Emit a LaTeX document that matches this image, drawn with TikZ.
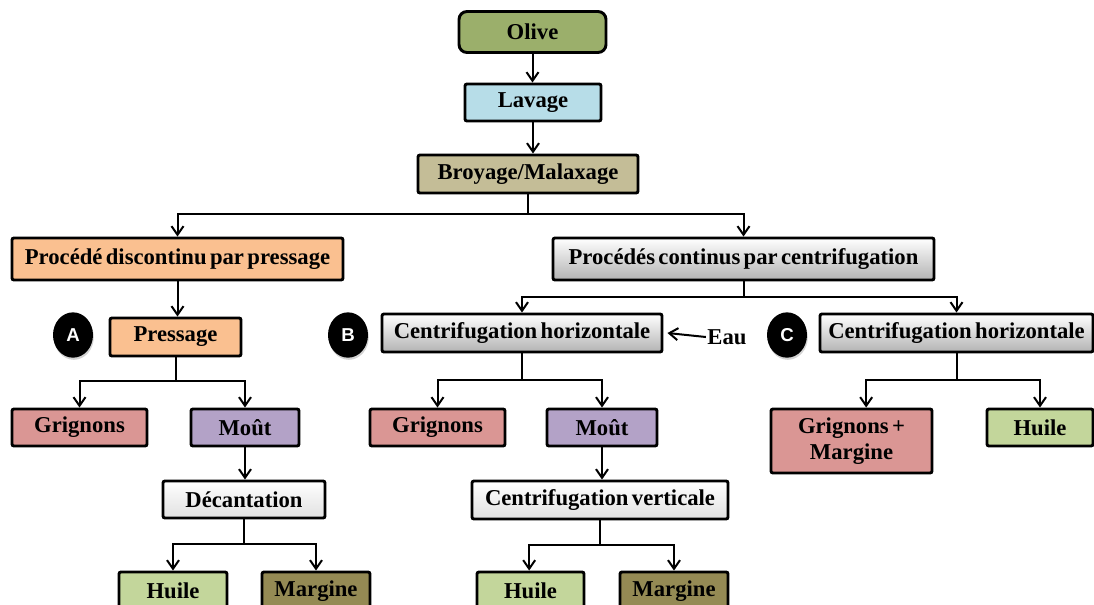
\documentclass[tikz,border=0pt]{standalone}
\usepackage{fontspec}
\setmainfont{Liberation Serif}[WordSpace=0.6]
\newfontfamily\tagfont{Liberation Sans}
\usepackage{tikz}
\usetikzlibrary{arrows.meta}
\usetikzlibrary{shapes.geometric}
\usetikzlibrary{shadows}
\definecolor{olivefill}{HTML}{9BAF6B}
\definecolor{washfill}{HTML}{B7DDE8}
\definecolor{grindfill}{HTML}{C4BD97}
\definecolor{pressfill}{HTML}{FAC090}
\definecolor{pomacefill}{HTML}{DA9694}
\definecolor{mustfill}{HTML}{B3A2C7}
\definecolor{oilfill}{HTML}{C3D69B}
\definecolor{wastefill}{HTML}{948A54}

\begin{document}
\begin{tikzpicture}[x=0.75pt,y=-0.75pt,
	box/.style={draw,line width=2.2pt,rounded corners=1.5pt,inner sep=0pt,font=\bfseries\fontsize{17}{19}\selectfont},
	greybox/.style={box,top color=white,bottom color=black!30},
	palebox/.style={box,top color=white,bottom color=black!12},
	tag/.style={ellipse,fill=black,text=white,inner sep=0pt,minimum width=30pt,minimum height=34pt,font=\tagfont\bfseries\fontsize{14}{16}\selectfont,drop shadow={shadow xshift=0.6pt,shadow yshift=-1.6pt,opacity=0.35}},
	arr/.style={-{Straight Barb[length=6.5pt,width=9pt]},line width=1.5pt},
	ln/.style={line width=1.5pt}]
			\useasboundingbox (0,0) rectangle (1094,604);
			\clip (0,0) rectangle (1094,604);
			% main line
			\node [box,fill=olivefill,rounded corners=6pt,minimum width=110.25pt,minimum height=30.75pt] (olive) at (532.5,32) {Olive};
			\node [box,fill=washfill,minimum width=102pt,minimum height=27.75pt] (wash) at (533,102.5) {Lavage};
			\node [box,fill=grindfill,minimum width=165pt,minimum height=28.5pt] (grind) at (528,174) {Broyage/Malaxage};
			\node [box,fill=pressfill,minimum width=248.25pt,minimum height=31.5pt] (disc) at (177.5,259) {Procédé discontinu par pressage};
			\node [greybox,minimum width=285.75pt,minimum height=31.5pt] (cont) at (743.5,259) {Procédés continus par centrifugation};
			% A
			\node [tag] (tagA) at (73,335) {A};
			\node [box,fill=pressfill,minimum width=98.25pt,minimum height=28.5pt] (press) at (175.5,337) {Pressage};
			\node [box,fill=pomacefill,minimum width=101.25pt,minimum height=27.75pt] (pomA) at (79.5,427.5) {Grignons};
			\node [box,fill=mustfill,minimum width=81pt,minimum height=27.75pt] (mustA) at (245,427.5) {Moût};
			\node [palebox,minimum width=121.5pt,minimum height=27.75pt] (decant) at (244,499.5) {Décantation};
			\node [box,fill=oilfill,minimum width=81pt,minimum height=28.5pt] (oilA) at (173,591) {Huile};
			\node [box,fill=wastefill,minimum width=81pt,minimum height=28.5pt] (wasteA) at (316,591) {Margine};
			% B
			\node [tag] (tagB) at (348,335) {B};
			\node [greybox,minimum width=210pt,minimum height=28.5pt] (horB) at (522,333) {Centrifugation horizontale};
			\node [font=\bfseries\fontsize{17}{19}\selectfont,inner sep=1pt] (water) at (727,337) {Eau};
			\node [box,fill=pomacefill,minimum width=101.25pt,minimum height=27.75pt] (pomB) at (437.5,427.5) {Grignons};
			\node [box,fill=mustfill,minimum width=82.5pt,minimum height=27.75pt] (mustB) at (602,427.5) {Moût};
			\node [palebox,minimum width=192pt,minimum height=28.5pt] (vert) at (600,500) {Centrifugation verticale};
			\node [box,fill=oilfill,minimum width=80.25pt,minimum height=28.5pt] (oilB) at (530.5,591) {Huile};
			\node [box,fill=wastefill,minimum width=81pt,minimum height=28.5pt] (wasteB) at (674,591) {Margine};
			% C
			\node [tag] (tagC) at (787,335) {C};
			\node [greybox,minimum width=204.75pt,minimum height=28.5pt] (horC) at (956.5,333) {Centrifugation horizontale};
			\node [box,fill=pomacefill,minimum width=120.75pt,minimum height=48pt,align=center] (pomC) at (851.5,441) {Grignons +\\Margine};
			\node [box,fill=oilfill,minimum width=79.5pt,minimum height=27.75pt] (oilC) at (1040,427.5) {Huile};
			% junctions
			\coordinate (j0) at (528,214);
			\coordinate (j1) at (743.5,297);
			\coordinate (jA) at (175.5,381);
			\coordinate (jA2) at (244,544);
			\coordinate (jB) at (522,380);
			\coordinate (jB2) at (600,545);
			\coordinate (jC) at (956.5,380);
			% arrows
			\draw [arr] (olive) -- (olive |- wash.north);
			\draw [arr] (wash) -- (wash |- grind.north);
			\draw [ln] (grind) -- (j0);
			\draw [arr] (j0) -| (disc);
			\draw [arr] (j0) -| (cont);
			\draw [arr] (disc) -- (disc |- press.north);
			\draw [ln] (cont) -- (j1);
			\draw [arr] (j1) -| (horB);
			\draw [arr] (j1) -| (horC);
			\draw [ln] (press) -- (jA);
			\draw [arr] (jA) -| (pomA);
			\draw [arr] (jA) -| (mustA);
			\draw [arr] (mustA) -- (mustA |- decant.north);
			\draw [ln] (decant) -- (jA2);
			\draw [arr] (jA2) -| (oilA);
			\draw [arr] (jA2) -| (wasteA);
			\draw [arr] (water.west) -- ([xshift=3pt]horB.east);
			\draw [ln] (horB) -- (jB);
			\draw [arr] (jB) -| (pomB);
			\draw [arr] (jB) -| (mustB);
			\draw [arr] (mustB) -- (mustB |- vert.north);
			\draw [ln] (vert) -- (jB2);
			\draw [arr] (jB2) -| ([xshift=-1pt]oilB.north);
			\draw [arr] (jB2) -| (wasteB);
			\draw [ln] (horC) -- (jC);
			\draw [arr] (jC) -| ([xshift=11pt]pomC.north);
			\draw [arr] (jC) -| (oilC);
		\end{tikzpicture}
\end{document}
